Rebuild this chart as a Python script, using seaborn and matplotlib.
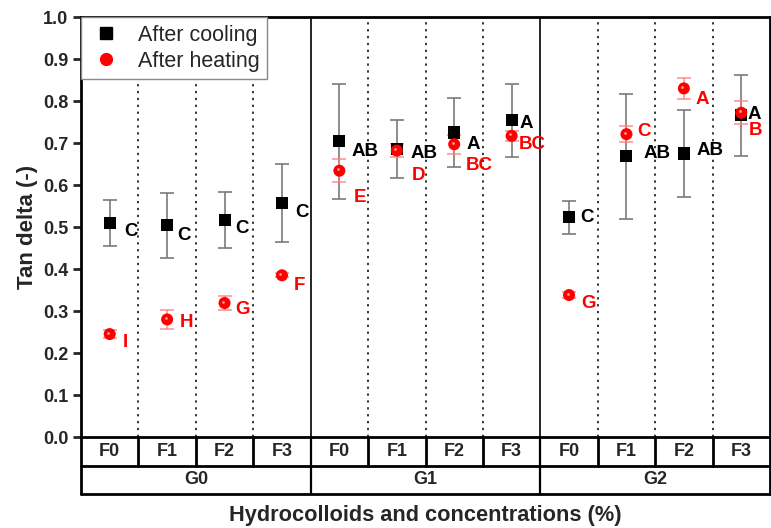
import numpy as np
import pandas as pd
import matplotlib
matplotlib.use("Agg")
import matplotlib.pyplot as plt
import matplotlib.transforms as mtransforms
from matplotlib.lines import Line2D
import seaborn as sns

# ---------------- data ----------------
groups = ["G0", "G1", "G2"]
forms = ["F0", "F1", "F2", "F3"]
cool_mean = [0.509, 0.504, 0.516, 0.557, 0.704, 0.686, 0.725, 0.754, 0.523, 0.668, 0.675, 0.766]
cool_err = [0.055, 0.077, 0.067, 0.093, 0.137, 0.069, 0.082, 0.087, 0.040, 0.148, 0.103, 0.096]
heat_mean = [0.245, 0.280, 0.319, 0.385, 0.634, 0.682, 0.697, 0.717, 0.338, 0.721, 0.830, 0.772]
heat_err = [0.009, 0.022, 0.017, 0.005, 0.027, 0.015, 0.022, 0.012, 0.008, 0.019, 0.025, 0.027]
cool_letters = ["C", "C", "C", "C", "AB", "AB", "A", "A", "C", "AB", "AB", "A"]
heat_letters = ["I", "H", "G", "F", "E", "D", "BC", "BC", "G", "C", "A", "B"]
yticks = [0.0, 0.1, 0.2, 0.3, 0.4, 0.5, 0.6, 0.7, 0.8, 0.9, 1.0]

# label offsets (pixels: right, down) -- layout only
cool_off = [(15, 8), (10, 10), (11, 8), (13, 9), (12, 10), (14, 5), (12, 12), (8, 3),
            (11, 0), (17, -3), (13, -3), (6, -1)]
heat_off = [(13, 8), (13, 3), (11, 6), (12, 10), (14, 27), (15, 25), (12, 21), (7, 9),
            (12, 8), (11, -3), (12, 11), (7, 18)]

n = len(groups) * len(forms)
pos = np.arange(n) + 0.5
df = pd.DataFrame({
    "x": np.concatenate([pos, pos]),
    "y": cool_mean + heat_mean,
    "cond": ["After cooling"] * n + ["After heating"] * n,
})

sns.set_theme(style="white")
plt.rcParams["font.family"] = ["Liberation Sans", "DejaVu Sans"]

W, H = 771, 528
fig = plt.figure(figsize=(W / 100, H / 100), dpi=100)
ax = fig.add_axes([81 / W, 1 - 437 / H, (770 - 81) / W, 420 / H])

# separators
for k in range(1, n):
    if k % 4 == 0:
        ax.axvline(k, color="black", lw=1.2, zorder=1)
    else:
        ax.axvline(k, color="black", lw=1.1, ls=(0, (1.5, 3)), zorder=1)

# error bars
ax.errorbar(pos, cool_mean, yerr=cool_err, fmt="none", ecolor="#7a7a7a",
            elinewidth=1.2, capsize=5, capthick=1.2, zorder=2)
ax.errorbar(pos, heat_mean, yerr=heat_err, fmt="none", ecolor="#ff7a7a",
            elinewidth=1.1, capsize=5, capthick=1.1, zorder=3, alpha=0.85)

# points through seaborn
sns.scatterplot(data=df, x="x", y="y", hue="cond", style="cond",
                palette={"After cooling": "black", "After heating": "#ff0000"},
                markers={"After cooling": "s", "After heating": "o"},
                s=75, linewidth=0, ax=ax, legend=False, zorder=4)
# subtle highlight on red spheres
hl = mtransforms.offset_copy(ax.transData, fig=fig, x=-1.5, y=1.5, units="dots")
ax.scatter(pos, heat_mean, s=4, color="#ff9a9a", linewidth=0, transform=hl, zorder=5)

# letters
for i in range(n):
    ax.annotate(cool_letters[i], (pos[i], cool_mean[i]), xytext=(cool_off[i][0], -cool_off[i][1]),
                textcoords="offset pixels", ha="left", va="center", fontsize=13.5,
                fontweight="bold", color="black", zorder=6)
    ax.annotate(heat_letters[i], (pos[i], heat_mean[i]), xytext=(heat_off[i][0], -heat_off[i][1]),
                textcoords="offset pixels", ha="left", va="center", fontsize=13.5,
                fontweight="bold", color="#ff0000", zorder=6)

ax.set_xlim(0, n)
ax.set_ylim(0, 1.0)
ax.set_yticks(yticks)
ax.set_yticklabels([f"{v:.1f}" for v in yticks], fontsize=13, fontweight="bold")
ax.set_xticks([])
ax.tick_params(axis="y", direction="out", length=6, width=2, pad=3, left=True)
for sp in ax.spines.values():
    sp.set_linewidth(2)
    sp.set_color("black")
ax.set_xlabel("")
ax.set_ylabel("Tan delta (-)", fontsize=16, fontweight="bold", labelpad=4)

# category table below axis
tr = ax.get_xaxis_transform()
r1 = -29 / 420
r2 = -57 / 420
ax.plot([0, n], [r1, r1], color="black", lw=2, transform=tr, clip_on=False)
ax.plot([0, n], [r2, r2], color="black", lw=2, transform=tr, clip_on=False)
ax.plot([0, 0], [0, r2], color="black", lw=2, transform=tr, clip_on=False)
ax.plot([n, n], [0, r2], color="black", lw=2, transform=tr, clip_on=False)
for k in range(1, n):
    bottom = r2 if k % 4 == 0 else r1
    ax.plot([k, k], [0, bottom], color="black", lw=2 if k % 4 else 1.6,
            transform=tr, clip_on=False)
for gi, g in enumerate(groups):
    for fi, f in enumerate(forms):
        ax.text(gi * 4 + fi + 0.5, r1 / 2, f, transform=tr, ha="center", va="center",
                fontsize=13, fontweight="bold")
    ax.text(gi * 4 + 2, (r1 + r2) / 2, g, transform=tr, ha="center", va="center",
            fontsize=13, fontweight="bold")

fig.text((81 + 770) / 2 / W, 1 - 516 / H, "Hydrocolloids and concentrations (%)",
         ha="center", va="center", fontsize=15.7, fontweight="bold")

# legend
handles = [
    Line2D([], [], marker="s", color="black", ls="none", markersize=8.5),
    Line2D([], [], marker="o", color="#ff0000", ls="none", markersize=8.5),
]
leg = ax.legend(handles, ["After cooling", "After heating"], loc="upper left",
                bbox_to_anchor=(0, 1), borderaxespad=0.0, fontsize=15.5, frameon=True,
                fancybox=False, handletextpad=0.7, borderpad=0.35, labelspacing=0.25,
                handlelength=1.6)
leg.get_frame().set_edgecolor("#888888")
leg.get_frame().set_linewidth(1)
leg.get_frame().set_facecolor("white")
leg.get_frame().set_alpha(1)
leg.set_zorder(10)

fig.savefig("out.png", dpi=100, facecolor="white")
